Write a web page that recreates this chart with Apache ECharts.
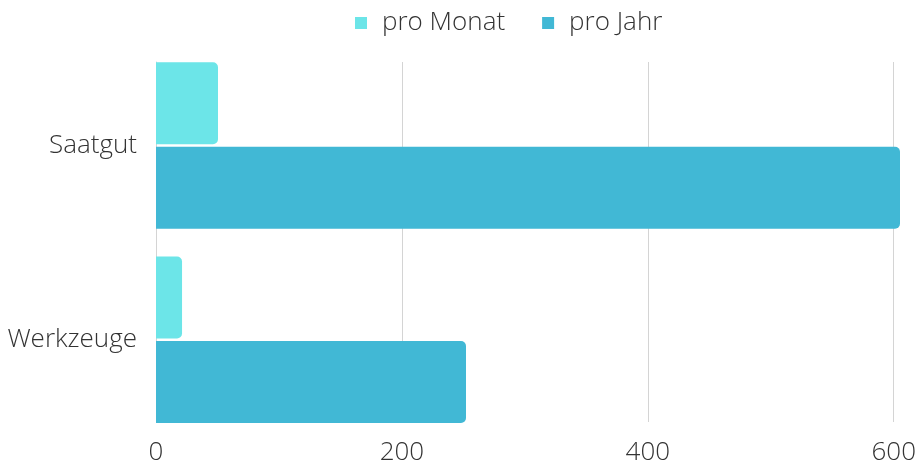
<!DOCTYPE html>
<html><head><meta charset="utf-8">
<script src="https://cdn.jsdelivr.net/npm/echarts@6/dist/echarts.min.js"></script>
<style>html,body{margin:0;padding:0;background:#fff}#c{width:919px;height:466px}</style>
</head><body><div id="c"></div>
<script>
const categories = ['Saatgut', 'Werkzeuge'];
const seriesNames = ['pro Monat', 'pro Jahr'];
const proMonat = [50, 21];
const proJahr = [600, 250];
const xTicks = [0, 200, 400, 600];

const font = 'Open Sans';
const textColor = '#333';
const chart = echarts.init(document.getElementById('c'));
chart.setOption({
  animation: false,
  legend: {
    top: 5, left: 350,
    itemWidth: 12, itemHeight: 12, itemGap: 37,
    icon: 'rect',
    textStyle: { fontFamily: font, fontWeight: 300, fontSize: 26, color: textColor, padding: [0, 0, 0, 10] },
    data: seriesNames
  },
  grid: [
    { left: 156, right: 19, top: 62, bottom: 43 },
    { left: 156, right: 19, top: 48.4, bottom: 29.2 }
  ],
  xAxis: [
    { gridIndex: 0, type: 'value', min: xTicks[0], max: xTicks[xTicks.length-1], interval: 200,
      axisLine: { show: false }, axisTick: { show: false },
      splitLine: { lineStyle: { color: '#d4d4d4', width: 1 } },
      axisLabel: { fontFamily: font, fontWeight: 300, fontSize: 26, color: textColor, margin: 18 } },
    { gridIndex: 1, type: 'value', min: xTicks[0], max: xTicks[xTicks.length-1],
      show: false }
  ],
  yAxis: [
    { gridIndex: 0, type: 'category', inverse: true, data: categories,
      axisLine: { show: true, lineStyle: { color: '#d4d4d4' } }, axisTick: { show: false },
      axisLabel: { show: false }, splitLine: { show: false } },
    { gridIndex: 1, type: 'category', inverse: true, data: categories,
      axisLine: { show: false }, axisTick: { show: false },
      axisLabel: { fontFamily: font, fontWeight: 300, fontSize: 26, color: textColor, margin: 19 } }
  ],
  series: [
    { name: seriesNames[0], type: 'bar', xAxisIndex: 1, yAxisIndex: 1, data: proMonat,
      barWidth: 82, barGap: '3%', itemStyle: { color: '#6ce5e8', borderRadius: [0, 5, 5, 0] } },
    { name: seriesNames[1], type: 'bar', xAxisIndex: 1, yAxisIndex: 1, data: proJahr,
      barWidth: 82, barGap: '3%', itemStyle: { color: '#41b8d5', borderRadius: [0, 5, 5, 0] } }
  ]
});
</script></body></html>
